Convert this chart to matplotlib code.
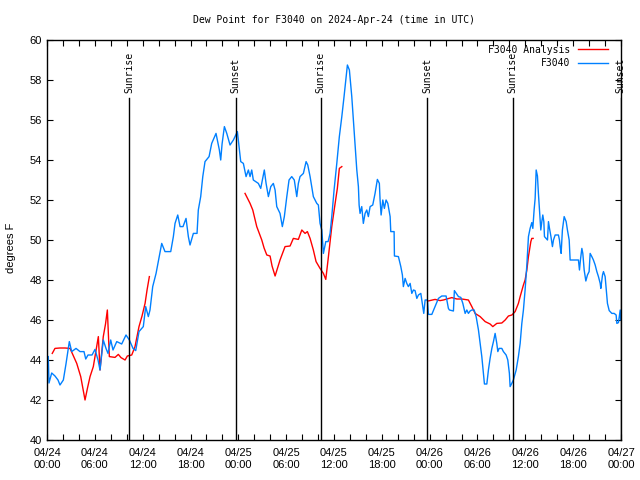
import numpy as np
import matplotlib
matplotlib.use('Agg')
import matplotlib.pyplot as plt
from matplotlib.ticker import MultipleLocator, FixedLocator

plt.rcParams['font.family'] = ['Liberation Sans', 'DejaVu Sans']
plt.rcParams['font.size'] = 8
MONO = 'DejaVu Sans Mono'

# ==================== Data (hours since 04/24 00:00 UTC) ====================
obs_hours = [0.16, 0.25, 0.59, 1.0, 1.38, 1.63, 2.05, 2.38, 2.8, 3.1, 3.64, 4.14, 4.64, 4.86,
             5.14, 5.65, 6.02, 6.4, 6.65, 7.06, 7.4, 7.65, 7.99, 8.28, 8.75, 9.37, 9.91, 10.33,
             10.79, 11.13, 11.54, 12.08, 12.38, 12.71, 12.92, 13.26, 13.68, 13.96, 14.39, 14.8,
             15.52, 15.85, 16.06, 16.4, 16.69, 17.06, 17.44, 17.73, 17.94, 18.36, 18.82, 18.98,
             19.28, 19.54, 19.82, 20.33, 20.66, 21.2, 21.62, 21.79, 21.96, 22.25, 22.55, 22.96,
             23.38, 23.88, 24.13, 24.3, 24.63, 24.97, 25.26, 25.47, 25.68, 25.88, 26.51, 26.81,
             27.06, 27.26, 27.48, 27.77, 28.07, 28.39, 28.61, 28.82, 29.23, 29.52, 29.77, 30.08,
             30.36, 30.7, 31.02, 31.33, 31.53, 31.74, 32.16, 32.5, 32.71, 33.0, 33.21, 33.41,
             33.84, 34.04, 34.25, 34.47, 34.67, 34.97, 35.26, 35.51, 35.72, 36.01, 36.35, 36.67,
             36.98, 37.26, 37.52, 37.68, 37.93, 38.23, 38.52, 38.86, 39.06, 39.15, 39.27, 39.48,
             39.68, 39.9, 40.11, 40.31, 40.53, 40.86, 41.15, 41.44, 41.69, 41.78, 41.91, 42.12,
             42.32, 42.53, 42.75, 43.04, 43.12, 43.54, 43.58, 44.08, 44.38, 44.58, 44.7, 44.92,
             45.13, 45.33, 45.55, 45.76, 45.96, 46.17, 46.39, 46.59, 46.89, 47.14, 47.26, 47.43,
             47.72, 47.84, 48.27, 48.68, 49.1, 49.52, 50.06, 50.35, 50.48, 50.98, 51.1, 51.61,
             51.91, 52.16, 52.45, 52.66, 52.86, 53.07, 53.29, 53.58, 53.83, 54.12, 54.33, 54.54,
             54.74, 54.87, 55.17, 55.37, 55.58, 55.8, 56.0, 56.21, 56.42, 56.55, 56.71, 57.05,
             57.25, 57.59, 57.8, 58.0, 58.09, 58.3, 58.5, 58.85, 59.13, 59.35, 59.56, 59.76,
             59.97, 60.19, 60.39, 60.6, 60.81, 60.94, 61.1, 61.23, 61.36, 61.52, 61.64, 61.77,
             61.94, 62.07, 62.19, 62.32, 62.4, 62.61, 62.78, 62.9, 63.03, 63.2, 63.4, 63.53,
             63.74, 64.15, 64.28, 64.37, 64.49, 64.65, 64.87, 65.12, 65.28, 65.5, 65.62, 66.66,
             66.79, 66.91, 67.09, 67.21, 67.38, 67.59, 67.79, 68.0, 68.13, 68.34, 68.54, 68.76,
             68.97, 69.17, 69.39, 69.47, 69.68, 69.8, 70.01, 70.14, 70.3, 70.52, 70.85, 71.14,
             71.39, 71.48, 71.68, 71.9, 71.96]
obs_dewpt = [44.17, 42.85, 43.35, 43.2, 43.0, 42.75, 43.0, 43.8, 44.92, 44.42, 44.58, 44.42,
             44.42, 44.05, 44.25, 44.25, 44.53, 44.0, 43.5, 45.0, 44.58, 44.33, 45.0, 44.5,
             44.92, 44.8, 45.25, 45.0, 44.58, 44.47, 45.42, 45.67, 46.67, 46.17, 46.5, 47.67,
             48.33, 48.92, 49.83, 49.42, 49.42, 50.17, 50.83, 51.25, 50.67, 50.67, 51.08, 50.17,
             49.75, 50.33, 50.33, 51.5, 52.17, 53.17, 53.92, 54.17, 54.83, 55.33, 54.5, 54.0,
             54.8, 55.67, 55.33, 54.75, 55.0, 55.42, 54.5, 53.92, 53.83, 53.17, 53.5, 53.17,
             53.5, 53.0, 52.83, 52.58, 53.1, 53.5, 52.83, 52.17, 52.67, 52.83, 52.5, 51.67,
             51.33, 50.67, 51.17, 52.17, 53.0, 53.17, 53.0, 52.17, 52.83, 53.17, 53.33, 53.92,
             53.75, 53.17, 52.67, 52.17, 51.83, 51.75, 50.83, 50.5, 49.33, 49.92, 49.92, 50.33,
             51.17, 52.5, 53.83, 55.17, 56.17, 57.17, 58.17, 58.75, 58.5, 57.17, 55.5, 53.5,
             52.67, 51.75, 51.33, 51.67, 50.83, 51.33, 51.5, 51.17, 51.67, 51.75, 52.33, 53.03,
             52.83, 52.0, 51.25, 52.0, 51.58, 52.0, 51.83, 51.17, 50.42, 50.42, 49.2, 49.17,
             48.67, 48.25, 47.67, 48.08, 47.83, 47.67, 47.83, 47.33, 47.5, 47.47, 47.08, 47.25,
             47.33, 46.67, 46.33, 47.0, 47.0, 46.28, 46.28, 46.67, 47.08, 47.2, 47.2, 46.58,
             46.5, 46.45, 47.47, 47.17, 47.13, 46.83, 46.33, 46.5, 46.33, 46.45, 46.5, 46.5,
             46.17, 45.5, 44.83, 44.17, 43.33, 42.8, 42.8, 43.5, 44.08, 44.58, 44.92, 45.33,
             44.83, 44.42, 44.58, 44.58, 44.42, 44.25, 44.0, 43.33, 42.67, 42.83, 43.0, 43.5,
             44.17, 44.83, 45.83, 46.5, 47.5, 48.75, 50.17, 50.58, 50.87, 50.58, 51.5, 52.08,
             53.5, 53.2, 52.33, 51.5, 50.5, 50.92, 51.25, 50.92, 50.17, 50.08, 50.0, 50.92,
             50.58, 50.2, 49.67, 50.0, 50.25, 50.25, 50.0, 49.67, 49.33, 50.5, 51.17, 50.92,
             50.5, 50.0, 49.0, 49.0, 48.5, 49.0, 49.58, 49.33, 48.5, 47.95, 48.25, 48.42,
             49.33, 49.17, 49.0, 48.75, 48.42, 48.17, 47.83, 47.58, 48.25, 48.42, 48.17, 47.58,
             46.83, 46.47, 46.33, 46.33, 46.25, 45.83, 45.87, 46.5, 46.0]

# analysis series: three separate runs, NaN marks the gaps
ana_hours = [0.66, 1.0, 1.63, 2.26, 2.89, 3.17, 3.73, 4.23, 4.77, 5.08, 5.4, 5.81, 6.02, 6.44,
             6.65, 7.06, 7.34, 7.57, 7.82, 8.53, 8.95, 9.28, 9.79, 10.08, 10.63, 11.04, 11.54,
             11.92, 12.3, 12.55, 12.84,
             18.0,
             24.84, 25.47, 25.81, 26.31, 26.47, 26.94, 27.23, 27.57, 27.98, 28.23, 28.61, 29.23,
             29.86, 30.49, 30.9, 31.53, 31.96, 32.37, 32.66, 33.0, 33.41, 33.75, 34.25, 34.67,
             34.97, 35.3, 35.72, 36.14, 36.42, 36.67, 36.98,
             42.0,
             47.8, 48.68, 49.31, 49.72, 50.15, 50.78, 51.41, 52.03, 52.86, 53.29, 53.7, 54.33,
             54.96, 55.58, 55.92, 56.42, 57.05, 57.47, 57.88, 58.31, 58.72, 59.13, 59.35, 59.76,
             59.97, 60.19, 60.39, 60.69, 60.81, 60.98]
ana_dewpt = [44.33, 44.58, 44.6, 44.6, 44.58, 44.33, 43.83, 43.17, 42.0, 42.6, 43.17, 43.67,
             44.17, 45.17, 43.5, 45.17, 45.8, 46.5, 44.17, 44.13, 44.28, 44.12, 44.0, 44.2,
             44.25, 44.67, 45.67, 46.2, 46.83, 47.5, 48.17,
             np.nan,
             52.33, 51.83, 51.5, 50.67, 50.5, 50.0, 49.6, 49.25, 49.2, 48.7, 48.2, 49.0, 49.67,
             49.7, 50.08, 50.03, 50.5, 50.33, 50.42, 50.08, 49.5, 48.92, 48.58, 48.33, 48.03,
             49.17, 50.67, 51.83, 52.58, 53.58, 53.67,
             np.nan,
             46.95, 47.03, 46.97, 47.0, 47.05, 47.12, 47.05, 47.05, 47.0, 46.67, 46.33, 46.17,
             45.92, 45.8, 45.67, 45.83, 45.85, 46.0, 46.2, 46.25, 46.42, 46.83, 47.17, 47.75,
             48.0, 48.5, 49.17, 49.92, 50.08, 50.08]

sun_hours = [10.29, 23.68, 34.32, 47.72, 58.41, 71.96]
sun_labels = ['Sunrise', 'Sunset', 'Sunrise', 'Sunset', 'Sunrise', 'Sunset']

tick_hours = list(range(0, 73, 6))
tick_labels = ['04/24\n00:00', '04/24\n06:00', '04/24\n12:00', '04/24\n18:00',
               '04/25\n00:00', '04/25\n06:00', '04/25\n12:00', '04/25\n18:00',
               '04/26\n00:00', '04/26\n06:00', '04/26\n12:00', '04/26\n18:00',
               '04/27\n00:00']

# ==================== Plot ====================
fig = plt.figure(figsize=(6.4, 4.8), dpi=100)
ax = fig.add_axes([47 / 640, 40 / 480, 574 / 640, 400 / 480])

ax.plot(ana_hours, ana_dewpt, color='#ff0000', lw=1.0, label='F3040 Analysis')
ax.plot(obs_hours, obs_dewpt, color='#0080ff', lw=1.0, label='F3040')

for h, lab in zip(sun_hours, sun_labels):
    ax.plot([h, h], [40, 57.1], color='black', lw=1.0)
    ax.text(h, 57.35, lab, rotation=90, ha='center', va='bottom', fontsize=7, family=MONO)

ax.set_xlim(0, 72)
ax.set_ylim(40, 60)
ax.xaxis.set_major_locator(FixedLocator(tick_hours))
ax.set_xticklabels(tick_labels)
ax.xaxis.set_minor_locator(MultipleLocator(2))
ax.yaxis.set_major_locator(MultipleLocator(2))
ax.tick_params(which='both', direction='in', top=True, right=True, length=4, width=0.8,
               labelsize=8)
ax.tick_params(axis='x', pad=6)
for s in ax.spines.values():
    s.set_linewidth(1.0)

ax.set_ylabel('degrees F', fontsize=8)
ax.yaxis.set_label_coords(-0.054, 0.48)
ax.set_title('Dew Point for F3040 on 2024-Apr-24 (time in UTC)', fontsize=7, family=MONO,
             pad=12)

ax.legend(loc='upper right', frameon=False, markerfirst=False,
          prop={'family': MONO, 'size': 7},
          handlelength=3.0, borderaxespad=0.1, labelspacing=0.35, handletextpad=0.8,
          bbox_to_anchor=(0.985, 1.0))

fig.savefig('out.png', dpi=100)
